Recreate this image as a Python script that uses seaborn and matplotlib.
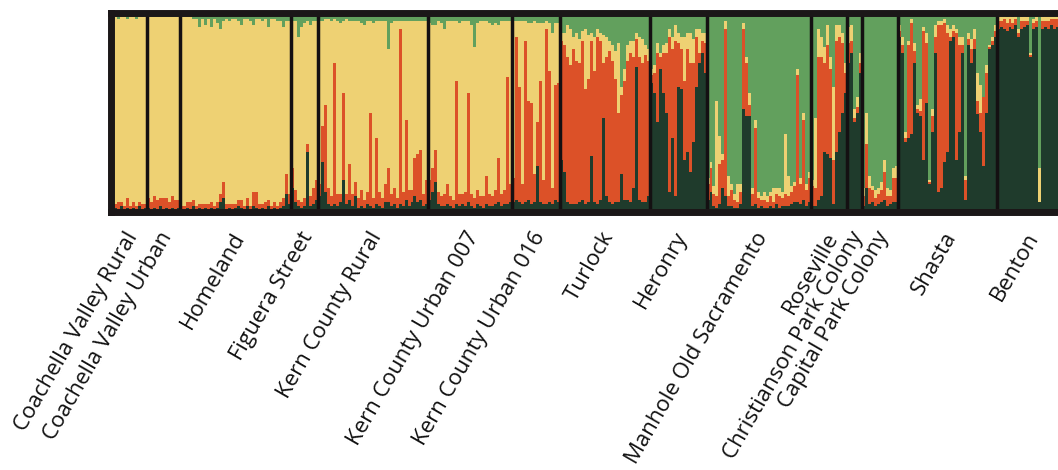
import matplotlib
matplotlib.use("Agg")
import matplotlib.pyplot as plt
import matplotlib.transforms as mtransforms
import numpy as np
import pandas as pd
import seaborn as sns

# Membership coefficients per individual, columns ordered bottom -> top:
# [dark green, orange, yellow, light green] (percent)
cluster_names = ["dark green", "orange", "yellow", "light green"]
cluster_colors = ["#1f3b2c", "#dc5128", "#eed173", "#62a05d"]

group_names = [
    "Coachella Valley Rural", "Coachella Valley Urban", "Homeland",
    "Figuera Street", "Kern County Rural", "Kern County Urban 007",
    "Kern County Urban 016", "Turlock", "Heronry", "Manhole Old Sacramento",
    "Roseville", "Christianson Park Colony", "Capital Park Colony",
    "Shasta", "Benton",
]

coachella_rural = [
    [1, 3, 94, 2], [2, 2, 94, 2], [1, 4, 92, 3], [3, 2, 93, 2], [1, 2, 95, 2],
    [2, 5, 90, 3], [1, 2, 95, 2], [2, 3, 93, 2], [1, 2, 94, 3], [3, 2, 93, 2],
    [1, 3, 94, 2], [2, 2, 95, 1],
]
coachella_urban = [
    [2, 5, 91, 2], [1, 4, 93, 2], [2, 6, 90, 2], [1, 5, 92, 2], [3, 4, 91, 2],
    [1, 6, 91, 2], [2, 5, 91, 2], [1, 4, 93, 2], [2, 6, 90, 2], [1, 5, 92, 2],
    [2, 4, 92, 2],
]
homeland = [
    [1, 2, 95, 2], [1, 2, 95, 2], [2, 3, 93, 2], [1, 4, 93, 2], [3, 3, 91, 3],
    [1, 2, 94, 3], [2, 2, 89, 7], [1, 3, 93, 3], [2, 2, 90, 6], [1, 3, 93, 3],
    [2, 3, 88, 7], [1, 2, 94, 3], [2, 3, 90, 5], [5, 4, 83, 8], [7, 8, 81, 4],
    [1, 3, 93, 3], [2, 2, 92, 4], [1, 3, 93, 3], [2, 2, 93, 3], [3, 3, 90, 4],
    [2, 4, 88, 6], [1, 2, 94, 3], [3, 4, 90, 3], [1, 2, 93, 4], [3, 7, 84, 6],
    [2, 8, 87, 3], [1, 3, 93, 3], [2, 2, 92, 4], [1, 4, 92, 3], [3, 3, 87, 7],
    [1, 2, 94, 3], [2, 3, 92, 3], [1, 2, 93, 4], [2, 3, 91, 4], [3, 4, 86, 7],
    [9, 10, 77, 4], [4, 5, 87, 4],
]
figuera_street = [
    [12, 10, 74, 4], [5, 6, 85, 4], [3, 3, 82, 12], [2, 3, 88, 7], [3, 4, 88, 5],
    [30, 4, 62, 4], [3, 5, 86, 6], [4, 8, 84, 4], [6, 10, 80, 4],
]
kern_rural = [
    [8, 6, 82, 4], [25, 18, 53, 4], [10, 44, 43, 3], [4, 8, 85, 3], [3, 5, 88, 4],
    [4, 71, 22, 3], [3, 6, 87, 4], [5, 4, 86, 5], [16, 44, 36, 4], [4, 5, 88, 3],
    [6, 18, 72, 4], [3, 6, 87, 4], [8, 7, 81, 4], [2, 5, 89, 4], [3, 8, 84, 5],
    [2, 4, 88, 6], [4, 6, 86, 4], [3, 47, 46, 4], [2, 5, 88, 5], [4, 33, 59, 4],
    [3, 7, 86, 4], [2, 5, 89, 4], [5, 9, 82, 4], [5, 17, 60, 18], [3, 6, 86, 5],
    [4, 8, 84, 4], [2, 5, 89, 4], [4, 88, 4, 4], [3, 7, 86, 4], [6, 40, 50, 4],
    [3, 8, 85, 4], [5, 6, 85, 4], [8, 19, 69, 4], [5, 24, 67, 4], [6, 25, 65, 4],
    [3, 6, 87, 4], [4, 12, 80, 4],
]
kern_urban_007 = [
    [6, 10, 79, 5], [10, 12, 72, 6], [15, 16, 63, 6], [4, 6, 86, 4], [3, 5, 87, 5],
    [3, 6, 83, 8], [4, 10, 82, 4], [3, 5, 88, 4], [2, 4, 90, 4], [4, 62, 30, 4],
    [3, 6, 86, 5], [4, 5, 87, 4], [3, 7, 86, 4], [5, 55, 36, 4], [3, 6, 85, 6],
    [2, 5, 76, 17], [4, 7, 84, 5], [3, 5, 88, 4], [2, 6, 88, 4], [4, 14, 78, 4],
    [3, 6, 86, 5], [3, 5, 86, 6], [4, 7, 84, 5], [5, 22, 67, 6], [3, 6, 87, 4],
    [4, 7, 85, 4], [4, 64, 28, 4], [5, 9, 82, 4],
]
kern_urban_016 = [
    [5, 12, 79, 4], [6, 82, 8, 4], [5, 58, 33, 4], [4, 10, 82, 4], [5, 81, 10, 4],
    [6, 50, 39, 5], [4, 51, 40, 5], [5, 14, 77, 4], [23, 22, 50, 5], [5, 61, 29, 5],
    [4, 12, 79, 5], [4, 88, 4, 4], [5, 66, 24, 5], [4, 8, 78, 10], [6, 58, 31, 5],
    [5, 60, 30, 5],
]
turlock = [
    [26, 60, 4, 10], [20, 64, 6, 10], [5, 73, 16, 6], [4, 70, 18, 8], [4, 78, 6, 12],
    [4, 72, 14, 10], [5, 70, 12, 13], [6, 80, 5, 9], [4, 58, 30, 8], [5, 62, 22, 11],
    [28, 58, 4, 10], [5, 66, 17, 12], [4, 84, 4, 8], [6, 80, 4, 10], [47, 28, 14, 11],
    [8, 70, 10, 12], [5, 76, 5, 14], [4, 72, 8, 16], [5, 62, 14, 19], [5, 45, 35, 15],
    [19, 40, 4, 37], [6, 60, 6, 28], [6, 70, 8, 16], [5, 75, 6, 14], [12, 66, 8, 14],
    [73, 14, 3, 10], [6, 72, 10, 12], [5, 70, 12, 13], [5, 74, 5, 16], [8, 68, 6, 18],
]
heronry = [
    [65, 4, 3, 28], [60, 10, 4, 26], [45, 35, 5, 15], [72, 6, 2, 20], [60, 20, 4, 16],
    [50, 30, 5, 15], [10, 78, 4, 8], [37, 45, 6, 12], [8, 78, 8, 6], [63, 22, 5, 10],
    [62, 20, 6, 12], [26, 40, 22, 12], [30, 52, 8, 10], [20, 55, 15, 10], [35, 40, 12, 13],
    [63, 25, 4, 8], [75, 5, 12, 8], [80, 6, 4, 10], [70, 15, 5, 10],
]
manhole_old_sacramento = [
    [6, 8, 3, 83], [10, 12, 3, 75], [3, 6, 4, 87], [2, 6, 48, 44], [4, 20, 14, 62],
    [12, 14, 3, 71], [8, 84, 4, 4], [3, 5, 10, 82], [3, 8, 3, 86], [2, 4, 3, 91],
    [2, 3, 9, 86], [4, 6, 4, 86], [52, 40, 3, 5], [48, 27, 3, 22], [48, 6, 6, 40],
    [3, 6, 3, 88], [4, 38, 4, 54], [2, 5, 3, 90], [3, 3, 2, 92], [2, 4, 4, 90],
    [2, 3, 3, 92], [3, 5, 2, 90], [2, 3, 7, 88], [4, 5, 3, 88], [2, 6, 4, 88],
    [3, 4, 3, 90], [3, 6, 30, 61], [3, 5, 10, 82], [4, 6, 3, 87], [5, 8, 2, 85],
    [5, 64, 3, 28], [4, 10, 3, 83], [6, 40, 4, 50], [3, 8, 3, 86], [5, 12, 3, 80],
]
roseville = [
    [3, 10, 3, 84], [3, 9, 35, 53], [6, 72, 14, 8], [8, 70, 10, 12], [30, 45, 8, 17],
    [29, 55, 10, 6], [27, 45, 6, 22], [4, 22, 37, 37], [30, 56, 8, 6], [40, 48, 6, 6],
    [50, 35, 5, 10], [60, 10, 5, 25],
]
christianson_park = [
    [75, 10, 8, 7], [80, 6, 8, 6], [45, 2, 5, 48], [50, 3, 5, 42], [70, 5, 5, 20],
]
capital_park = [
    [3, 5, 4, 88], [12, 22, 16, 50], [4, 8, 6, 82], [5, 6, 2, 87], [3, 4, 4, 89],
    [4, 5, 3, 88], [5, 6, 4, 85], [6, 14, 6, 74], [3, 5, 4, 88], [4, 4, 3, 89],
    [5, 12, 5, 78], [5, 12, 6, 77],
]
shasta = [
    [88, 3, 3, 6], [80, 4, 4, 12], [35, 2, 3, 60], [37, 47, 2, 14], [39, 56, 2, 3],
    [75, 6, 4, 15], [50, 2, 2, 46], [48, 3, 6, 43], [26, 65, 2, 7], [55, 30, 5, 10],
    [14, 1, 1, 84], [40, 8, 4, 48], [80, 8, 6, 6], [10, 84, 2, 4], [12, 82, 2, 4],
    [25, 70, 2, 3], [30, 60, 4, 6], [86, 2, 4, 8], [88, 3, 3, 6], [26, 64, 2, 8],
    [40, 44, 4, 12], [80, 4, 4, 12], [6, 10, 2, 82], [84, 3, 3, 10], [75, 7, 5, 13],
    [82, 5, 5, 8], [49, 7, 14, 30], [40, 10, 14, 36], [23, 35, 0, 42], [50, 20, 4, 26],
    [82, 1, 1, 16], [84, 2, 2, 12], [88, 3, 3, 6],
]
benton = [
    [92, 4, 2, 2], [93, 3, 3, 1], [92, 5, 2, 1], [91, 4, 3, 2], [93, 4, 2, 1],
    [92, 3, 3, 2], [94, 3, 2, 1], [88, 2, 2, 8], [92, 4, 2, 2], [93, 3, 3, 1],
    [94, 2, 2, 2], [78, 1, 1, 20], [92, 3, 2, 3], [93, 3, 2, 2], [5, 0, 17, 78],
    [92, 4, 2, 2], [93, 3, 3, 1], [92, 4, 3, 1], [94, 3, 2, 1], [92, 5, 2, 1],
    [93, 4, 2, 1], [92, 4, 3, 1],
]

groups = [
    coachella_rural, coachella_urban, homeland, figuera_street, kern_rural,
    kern_urban_007, kern_urban_016, turlock, heronry, manhole_old_sacramento,
    roseville, christianson_park, capital_park, shasta, benton,
]

# Long table: one row per individual and cluster, q normalised to sum to 1
records = []
ind = 0
for gname, rows in zip(group_names, groups):
    for row in rows:
        total = float(sum(row))
        for cname, val in zip(cluster_names, row):
            records.append({"ind": ind, "population": gname,
                            "cluster": cname, "q": val / total})
        ind += 1
df = pd.DataFrame(records)
n_ind = ind

sizes = [len(g) for g in groups]
edges = np.concatenate([[0], np.cumsum(sizes)])
centers = (edges[:-1] + edges[1:]) / 2 - 0.5

sns.set_theme(style="white")
plt.rcParams["font.family"] = ["Open Sans", "DejaVu Sans"]

W, H = 1058, 470
fig = plt.figure(figsize=(W / 100, H / 100), dpi=100)
left_px, top_px, bottom_px, unit_px = 111.5, 13.5, 211.5, 2.99
ax = fig.add_axes([left_px / W, (H - bottom_px) / H,
                   n_ind * unit_px / W, (bottom_px - top_px) / H])

palette = dict(zip(cluster_names, cluster_colors))
# seaborn stacks hue levels so the first one ends up on top
sns.histplot(data=df, x="ind", weights="q", hue="cluster",
             hue_order=cluster_names[::-1], palette=palette,
             multiple="stack", discrete=True, shrink=1, alpha=1,
             linewidth=0, antialiased=False, legend=False, ax=ax)

ax.set_xlim(-0.5, n_ind - 0.5)
ax.set_ylim(0, 1)
ax.set_yticks([])
ax.set_ylabel("")
ax.set_xlabel("")

# population separators
for e in edges[1:-1]:
    ax.axvline(e - 0.5, color="#141012", lw=2.5, zorder=5)

for sp in ax.spines.values():
    sp.set_visible(True)
    sp.set_color("#1b1718")
    sp.set_linewidth(5)
    sp.set_zorder(6)

ax.set_xticks(centers)
ax.set_xticklabels(group_names, rotation=60, ha="right", va="top",
                   rotation_mode="anchor", fontsize=16, color="#111111")
ax.tick_params(axis="x", length=0, pad=12)
offset = mtransforms.ScaledTranslation(-5 / 100, 0, fig.dpi_scale_trans)
for lab in ax.get_xticklabels():
    lab.set_transform(lab.get_transform() + offset)

fig.savefig("out.png", dpi=100, facecolor="white")
